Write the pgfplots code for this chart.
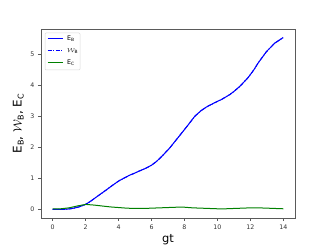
\documentclass[border=0pt]{standalone}
\usepackage{pgfplots}
\pgfplotsset{compat=1.18}
\usepackage{fontspec}
\setmainfont{DejaVu Sans}
\setsansfont{DejaVu Sans}
\definecolor{mplgreen}{RGB}{0,128,0}
\definecolor{axgray}{RGB}{90,90,90}
\pgfplotstableread{
t y
0 0
0.5 0
0.75 0.005
1.0 0.015
1.25 0.035
1.6 0.08
2.0 0.16
2.3 0.26
2.56 0.36
2.9 0.49
3.27 0.63
3.6 0.76
4.0 0.91
4.35 1.01
4.68 1.10
5.0 1.17
5.29 1.24
5.65 1.32
6.0 1.42
6.3 1.54
6.6 1.69
7.1 1.97
7.4 2.17
7.72 2.38
8.2 2.70
8.62 2.99
9.0 3.17
9.33 3.29
9.8 3.42
10.24 3.53
10.75 3.69
11.0 3.79
11.35 3.95
11.85 4.23
12.2 4.48
12.46 4.70
12.97 5.07
13.47 5.34
13.98 5.52
}\EB
\pgfplotstableread{
t y
0 0.02
0.5 0.02
1.0 0.05
1.5 0.11
2.0 0.16
2.5 0.14
3.0 0.11
3.5 0.08
4.0 0.06
4.5 0.04
5.0 0.03
5.5 0.03
6.0 0.04
6.5 0.05
7.0 0.06
7.5 0.07
8.0 0.07
8.5 0.05
9.0 0.04
9.5 0.03
10.0 0.02
10.5 0.02
11.0 0.03
11.5 0.04
12.0 0.05
12.5 0.05
13.0 0.04
13.5 0.03
14.0 0.02
}\EC
\begin{document}
\begin{tikzpicture}
\begin{axis}[
  name=ax,
  scale only axis,
  width=254bp, height=189bp,
  xmin=-0.7, xmax=14.7,
  ymin=-0.276, ymax=5.796,
  xtick={0,2,...,14},
  ytick={0,1,2,3,4,5},
  axis line style={axgray, line width=0.6bp},
  tick style={axgray, line width=0.5bp},
  tick align=outside,
  major tick length=3bp,
  xtick pos=bottom, ytick pos=left,
  /pgf/number format/assume math mode=true,
  ticklabel style={font=\fontsize{6.3}{7}\selectfont, text=black!80},
  xlabel={gt},
  xlabel style={font=\fontsize{11.5}{13}\selectfont, yshift=2bp},
  ylabel={E$_{\mathrm{B}}$, $\mathcal{W}_{\mathrm{B}}$, E$_{\mathrm{C}}$},
  ylabel style={font=\fontsize{12}{14}\selectfont, yshift=0bp},
]
\addplot[blue, line width=1bp] table[x=t,y=y] {\EB};
\addplot[blue, line width=1bp, dash pattern=on 4bp off 1.5bp on 1bp off 1.5bp] table[x=t,y=y] {\EB};
\addplot[mplgreen, line width=1bp] table[x=t,y=y] {\EC};
\end{axis}
% legend
\draw[black!15, fill=white, rounded corners=1bp, line width=0.5bp]
  ([xshift=4bp,yshift=-4bp]ax.north west) rectangle ([xshift=39bp,yshift=-41bp]ax.north west);
\draw[blue, line width=1bp] ([xshift=6.5bp,yshift=-10bp]ax.north west) -- ++(15bp,0);
\draw[blue, line width=1bp, dash pattern=on 4bp off 1.5bp on 1bp off 1.5bp] ([xshift=6.5bp,yshift=-22bp]ax.north west) -- ++(15bp,0);
\draw[mplgreen, line width=1bp] ([xshift=6.5bp,yshift=-34bp]ax.north west) -- ++(15bp,0);
\begin{scope}[every node/.style={anchor=west, inner sep=0pt, font=\fontsize{6.3}{7}\selectfont}]
\node at ([xshift=26bp,yshift=-10bp]ax.north west) {E$_{\mathrm{B}}$};
\node at ([xshift=26bp,yshift=-22bp]ax.north west) {$\mathcal{W}_{\mathrm{B}}$};
\node at ([xshift=26bp,yshift=-34bp]ax.north west) {E$_{\mathrm{C}}$};
\end{scope}
\path[use as bounding box] ([xshift=-41bp,yshift=-27bp]ax.south west) rectangle ([xshift=32bp,yshift=29bp]ax.north east);
\end{tikzpicture}
\end{document}
